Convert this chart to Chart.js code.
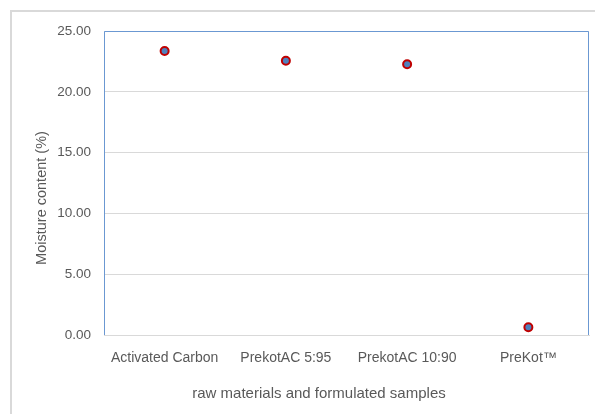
<!DOCTYPE html>
<html>
<head>
<meta charset="utf-8">
<script src="https://cdn.jsdelivr.net/npm/chart.js@4"></script>
<style>
  body { margin: 0; background: #fff; overflow: hidden; }
  canvas { display: block; }
</style>
</head>
<body>
<canvas id="moisture-chart" width="595" height="414"></canvas>
<script>
const sampleNames = ["Activated Carbon", "PrekotAC 5:95", "PrekotAC 10:90", "PreKot\u2122"]
const moistureValues = [23.36, 22.56, 22.26, 0.63]
const yTickValues = [0, 5, 10, 15, 20, 25]

const xTitle = "raw materials and formulated samples"
const yTitle = "Moisture content (%)"

const textGray = "#595959"
const labelFont = "'Liberation Sans', Arial, sans-serif"

// outer frame, plot border and the two axis titles
const framePlugin = {
    id: "frame",
    beforeDraw(chart) {
        const ctx = chart.ctx
        ctx.save()
        ctx.strokeStyle = "#d9d9d9"
        ctx.lineWidth = 2
        ctx.beginPath()
        ctx.moveTo(11, chart.height)
        ctx.lineTo(11, 11)
        ctx.lineTo(chart.width, 11)
        ctx.stroke()
        ctx.restore()
    },
    afterDraw(chart) {
        const ctx = chart.ctx
        const a = chart.chartArea
        ctx.save()
        ctx.strokeStyle = "#6b98d2"
        ctx.lineWidth = 1
        ctx.beginPath()
        ctx.moveTo(a.left + 0.5, a.bottom)
        ctx.lineTo(a.left + 0.5, a.top + 0.5)
        ctx.lineTo(a.right - 0.5, a.top + 0.5)
        ctx.lineTo(a.right - 0.5, a.bottom)
        ctx.stroke()

        ctx.fillStyle = textGray
        ctx.textAlign = "center"
        ctx.textBaseline = "middle"
        ctx.font = "15px " + labelFont
        ctx.fillText(xTitle, 319, 394)

        ctx.translate(42, 198)
        ctx.rotate(-Math.PI / 2)
        ctx.font = "14.5px " + labelFont
        ctx.fillText(yTitle, 0, 0)
        ctx.restore()
    }
}

const chartData = {
    labels: sampleNames,
    datasets: [{
        label: "Moisture content",
        data: moistureValues,
        showLine: false,
        pointRadius: 4,
        pointHoverRadius: 4,
        pointBackgroundColor: "#4f81bd",
        pointBorderColor: "#c00000",
        pointBorderWidth: 2
    }]
}

const configuration = {
    type: "line",
    data: chartData,
    plugins: [framePlugin],
    options: {
        responsive: false,
        animation: false,
        layout: {
            padding: { top: 31, right: 5, left: 0, bottom: 0 }
        },
        plugins: {
            legend: { display: false },
            tooltip: { enabled: false }
        },
        scales: {
            x: {
                offset: true,
                grid: { display: false, drawTicks: false },
                border: { color: "#d9d9d9", width: 1 },
                ticks: {
                    color: textGray,
                    padding: 15,
                    maxRotation: 0,
                    font: { family: labelFont, size: 14 }
                },
                afterFit: function (scale) {
                    scale.height = 79
                }
            },
            y: {
                min: 0,
                max: 25,
                grid: { color: "#d9d9d9", drawTicks: false },
                border: { display: false },
                afterBuildTicks: function (scale) {
                    scale.ticks = yTickValues.map(v => ({ value: v }))
                },
                ticks: {
                    color: textGray,
                    padding: 13,
                    font: { family: labelFont, size: 13.5 },
                    callback: function (value) {
                        return Number(value).toFixed(2)
                    }
                },
                afterFit: function (scale) {
                    scale.width = 104
                }
            }
        }
    }
}

new Chart(document.getElementById("moisture-chart"), configuration)
</script>
</body>
</html>
